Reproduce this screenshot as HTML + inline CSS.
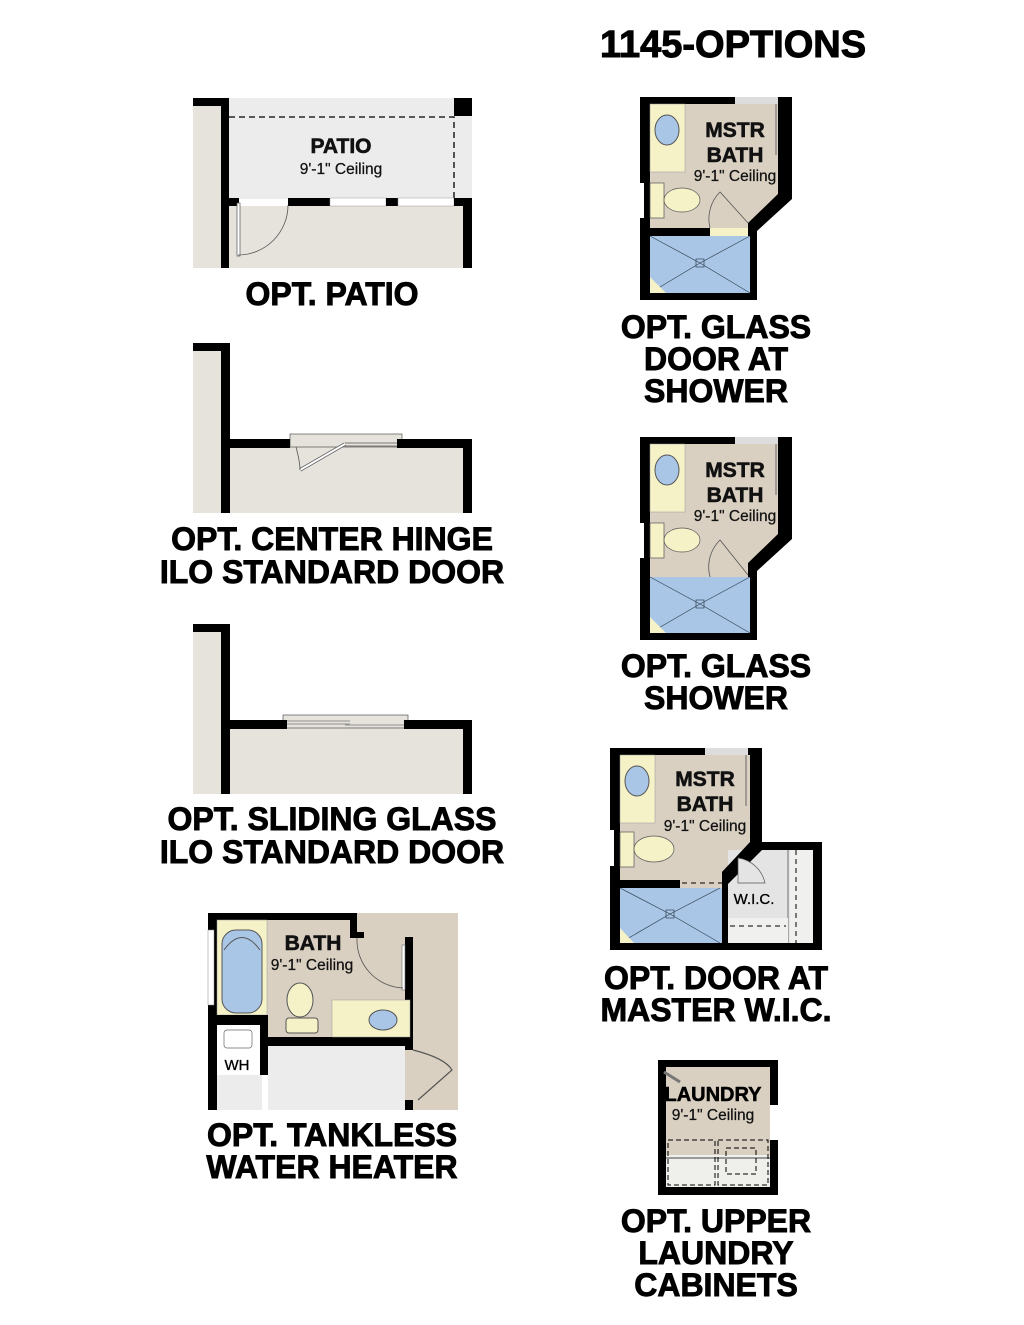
<!DOCTYPE html>
<html><head><meta charset="utf-8"><style>
html,body{margin:0;padding:0;background:#fff;}
svg{display:block;}
text{font-family:"Liberation Sans",sans-serif;}
.lb{font-weight:bold;font-size:32px;text-anchor:middle;fill:#000;stroke:#000;stroke-width:0.9px;}
.rm{font-weight:bold;font-size:21px;text-anchor:middle;fill:#111;stroke:#111;stroke-width:0.6px;}
.cl{font-size:15.5px;text-anchor:middle;fill:#111;stroke:#111;stroke-width:0.25px;}
</style></head><body>
<svg width="1024" height="1325" viewBox="0 0 1024 1325" xmlns="http://www.w3.org/2000/svg">
<rect width="1024" height="1325" fill="#fff"/>
<text x="733" y="57" font-weight="bold" font-size="38" text-anchor="middle" stroke="#000" stroke-width="1">1145-OPTIONS</text>

<!-- PATIO -->
<rect x="193" y="98" width="36" height="170" fill="#e6e2dc"/>
<rect x="229" y="98" width="243" height="101" fill="#ececec"/>
<rect x="229" y="206" width="234" height="62" fill="#e6e2dc"/>
<rect x="193" y="98" width="36" height="8" fill="#000"/>
<rect x="221" y="98" width="8" height="170" fill="#000"/>
<rect x="454" y="98" width="18" height="18" fill="#000"/>
<path d="M229 117 H454 V199" stroke="#000" stroke-width="1.3" stroke-dasharray="6,4" fill="none"/>
<rect x="229" y="198" width="10" height="8" fill="#000"/>
<rect x="288" y="198" width="42" height="8" fill="#000"/>
<rect x="330" y="198" width="56" height="8" fill="#fff" stroke="#999" stroke-width=".5"/>
<rect x="386" y="198" width="12" height="8" fill="#000"/>
<rect x="398" y="198" width="56" height="8" fill="#fff" stroke="#999" stroke-width=".5"/>
<rect x="454" y="198" width="18" height="8" fill="#000"/>
<rect x="463" y="198" width="9" height="70" fill="#000"/>
<rect x="237" y="203" width="3" height="53" fill="#fff" stroke="#555" stroke-width=".7"/>
<path d="M238 255 A50 50 0 0 0 288 205" stroke="#555" fill="none" stroke-width=".8"/>
<text class="rm" x="341" y="153">PATIO</text>
<text class="cl" x="341" y="174">9'-1" Ceiling</text>
<text class="lb" x="332" y="305">OPT. PATIO</text>

<!-- CENTER HINGE -->
<rect x="193" y="343" width="36" height="170" fill="#e6e2dc"/>
<rect x="229" y="447" width="234" height="66" fill="#e6e2dc"/>
<rect x="290" y="434" width="112" height="13" fill="#e6e2dc" stroke="#555" stroke-width=".7"/>
<rect x="193" y="343" width="36" height="8" fill="#000"/>
<rect x="221" y="343" width="9" height="170" fill="#000"/>
<rect x="221" y="439" width="69" height="9" fill="#000"/>
<rect x="397" y="439" width="75" height="9" fill="#000"/>
<rect x="463" y="439" width="9" height="74" fill="#000"/>
<path d="M345 446 H397 M345 443 H397" stroke="#555" stroke-width=".8"/>
<path d="M345 444 L300 470" stroke="#555" stroke-width="3.5"/>
<path d="M345 444 L300 470" stroke="#fff" stroke-width="2"/>
<path d="M296 447 Q300 462 300 470" stroke="#555" fill="none" stroke-width=".8"/>
<text class="lb" x="332" y="550">OPT. CENTER HINGE</text>
<text class="lb" x="332" y="583">ILO STANDARD DOOR</text>

<!-- SLIDING -->
<rect x="193" y="624" width="36" height="170" fill="#e6e2dc"/>
<rect x="229" y="728" width="234" height="66" fill="#e6e2dc"/>
<rect x="283" y="715" width="125" height="13" fill="#e6e2dc" stroke="#555" stroke-width=".7"/>
<rect x="193" y="624" width="36" height="8" fill="#000"/>
<rect x="221" y="624" width="9" height="170" fill="#000"/>
<rect x="221" y="720" width="66" height="9" fill="#000"/>
<rect x="404" y="720" width="68" height="9" fill="#000"/>
<rect x="463" y="720" width="9" height="74" fill="#000"/>
<path d="M287 721 H350 M287 724 H350 M345 725 H404 M345 728 H404" stroke="#777" stroke-width=".7"/>
<text class="lb" x="332" y="830">OPT. SLIDING GLASS</text>
<text class="lb" x="332" y="863">ILO STANDARD DOOR</text>

<!-- TANKLESS -->
<rect x="355" y="913" width="103" height="197" fill="#d9d0c2"/>
<rect x="217" y="920" width="188" height="120" fill="#d9d0c2"/>
<rect x="208" y="913" width="149" height="7" fill="#000"/>
<rect x="350" y="913" width="7" height="25" fill="#000"/>
<rect x="350" y="932" width="14" height="6" fill="#000"/>
<rect x="208" y="913" width="9" height="197" fill="#000"/>
<rect x="208" y="930" width="6" height="75" fill="#fff" stroke="#888" stroke-width=".5"/>
<rect x="217" y="920" width="50" height="95" fill="#f6f2c8" stroke="#999" stroke-width=".5"/>
<rect x="222" y="930" width="40" height="83" rx="14" fill="#a9c6e6" stroke="#555"/>
<path d="M224 950 Q242 925 260 950" stroke="#555" fill="none"/>
<rect x="208" y="1015" width="60" height="10" fill="#000"/>
<rect x="217" y="1025" width="45" height="50" fill="#fff"/>
<rect x="224" y="1030" width="28" height="18" rx="3" fill="#fff" stroke="#666" stroke-width=".7"/>
<text x="237" y="1070" font-size="15" text-anchor="middle" stroke="#000" stroke-width=".3">WH</text>
<rect x="260" y="1020" width="8" height="55" fill="#000"/>
<rect x="217" y="1075" width="45" height="35" fill="#ececec"/>
<rect x="268" y="1045" width="137" height="65" fill="#ececec"/>
<rect x="262" y="1037" width="151" height="9" fill="#000"/>
<rect x="405" y="937" width="8" height="113" fill="#000"/>
<rect x="402" y="945" width="3" height="45" fill="#fff" stroke="#666" stroke-width=".6"/>
<path d="M357 938 A48 48 0 0 0 403 988" stroke="#555" fill="none" stroke-width=".8"/>
<rect x="332" y="1000" width="78" height="37" fill="#f6f2c8" stroke="#999" stroke-width=".5"/>
<ellipse cx="383" cy="1020" rx="14" ry="10" fill="#a9c6e6" stroke="#555"/>
<ellipse cx="300" cy="1000" rx="13" ry="17" fill="#f6f2c8" stroke="#555"/>
<rect x="286" y="1018" width="32" height="15" rx="3" fill="#f6f2c8" stroke="#555"/>
<rect x="405" y="1100" width="8" height="10" fill="#000"/>
<path d="M413 1050 Q445 1058 452 1070 L418 1100" stroke="#555" fill="none" stroke-width="1.2"/>
<text class="rm" x="313" y="950">BATH</text>
<text class="cl" x="312" y="970">9'-1" Ceiling</text>
<text class="lb" x="332" y="1146">OPT. TANKLESS</text>
<text class="lb" x="332" y="1178">WATER HEATER</text>

<!-- MSTR BATH 1 -->
<g transform="translate(640,97)">
<polygon points="0,0 152,0 152,102 117,134 117,203 0,203" fill="#000"/>
<polygon points="10,7 138,7 138,97 108,126 108,139 10,139" fill="#d9d0c2"/>
<rect x="95" y="0" width="43" height="7" fill="#ddd"/>
<line x1="136" y1="7" x2="136" y2="58" stroke="#666"/>
<rect x="0" y="131" width="70" height="8" fill="#000"/>
<rect x="70" y="131" width="38" height="8" fill="#f6f2c8"/>
<rect x="10" y="139" width="100" height="57" fill="#a9c6e6"/>
<path d="M10 139 L60 166 L110 139 M10 196 L60 166 L110 196" stroke="#345" stroke-width=".7" fill="none"/>
<rect x="56" y="162" width="8" height="8" fill="none" stroke="#345" stroke-width=".7"/>
<polygon points="10,180 10,196 26,196" fill="#f6f2c8"/>
<rect x="10" y="7" width="35" height="68" fill="#f6f2c8" stroke="#999" stroke-width=".5"/>
<ellipse cx="27" cy="33" rx="12" ry="15" fill="#a9c6e6" stroke="#555"/>
<rect x="0" y="86" width="4" height="35" fill="#fff"/>
<rect x="10" y="86" width="14" height="35" fill="#f6f2c8" stroke="#555" stroke-width=".7"/>
<ellipse cx="42" cy="103" rx="18" ry="12" fill="#f6f2c8" stroke="#555" stroke-width=".7"/>
<path d="M70 131 A38 38 0 0 1 80 95 L108 126" stroke="#555" fill="none" stroke-width=".8"/>
<text class="rm" x="95" y="40">MSTR</text>
<text class="rm" x="95" y="65">BATH</text>
<text class="cl" x="95" y="84">9'-1" Ceiling</text>
</g>
<text class="lb" x="716" y="338">OPT. GLASS</text>
<text class="lb" x="716" y="370">DOOR AT</text>
<text class="lb" x="716" y="402">SHOWER</text>

<!-- MSTR BATH 2 -->
<g transform="translate(640,437)">
<polygon points="0,0 152,0 152,102 117,134 117,203 0,203" fill="#000"/>
<polygon points="10,7 138,7 138,97 108,126 108,140 10,140" fill="#d9d0c2"/>
<rect x="95" y="0" width="43" height="7" fill="#ddd"/>
<line x1="136" y1="7" x2="136" y2="58" stroke="#666"/>
<rect x="10" y="140" width="100" height="56" fill="#a9c6e6"/>
<path d="M10 140 L60 167 L110 140 M10 196 L60 167 L110 196" stroke="#345" stroke-width=".7" fill="none"/>
<rect x="56" y="163" width="8" height="8" fill="none" stroke="#345" stroke-width=".7"/>
<polygon points="10,180 10,196 26,196" fill="#f6f2c8"/>
<rect x="10" y="7" width="35" height="68" fill="#f6f2c8" stroke="#999" stroke-width=".5"/>
<ellipse cx="27" cy="33" rx="12" ry="15" fill="#a9c6e6" stroke="#555"/>
<rect x="0" y="86" width="4" height="35" fill="#fff"/>
<rect x="10" y="86" width="14" height="35" fill="#f6f2c8" stroke="#555" stroke-width=".7"/>
<ellipse cx="42" cy="103" rx="18" ry="12" fill="#f6f2c8" stroke="#555" stroke-width=".7"/>
<path d="M70 140 A38 38 0 0 1 80 103 L108 138" stroke="#555" fill="none" stroke-width=".8"/>
<text class="rm" x="95" y="40">MSTR</text>
<text class="rm" x="95" y="65">BATH</text>
<text class="cl" x="95" y="84">9'-1" Ceiling</text>
</g>
<text class="lb" x="716" y="677">OPT. GLASS</text>
<text class="lb" x="716" y="709">SHOWER</text>

<!-- MSTR BATH 3 WIC -->
<g transform="translate(610,748)">
<polygon points="0,0 152,0 152,94 212,94 212,202 0,202" fill="#000"/>
<polygon points="10,7 140,7 140,97 112,124 112,132 10,132" fill="#d9d0c2"/>
<rect x="118" y="102" width="85" height="93" fill="#e4e4e4"/>
<rect x="180" y="102" width="23" height="93" fill="#f0f0ee"/>
<line x1="178" y1="102" x2="178" y2="195" stroke="#aaa" stroke-width="2"/>
<line x1="186" y1="102" x2="186" y2="195" stroke="#000" stroke-dasharray="5,4"/>
<rect x="118" y="170" width="60" height="25" fill="#f0f0ee"/>
<line x1="120" y1="178" x2="176" y2="178" stroke="#000" stroke-dasharray="5,4"/>
<polygon points="140,94 152,94 152,102 118,136 112,136 112,124" fill="#000"/>
<rect x="112" y="132" width="6" height="70" fill="#000"/>
<rect x="95" y="0" width="43" height="7" fill="#ddd"/>
<line x1="136" y1="7" x2="136" y2="58" stroke="#666"/>
<rect x="0" y="132" width="70" height="8" fill="#000"/>
<rect x="70" y="132" width="42" height="8" fill="#d9d0c2"/>
<line x1="72" y1="135" x2="112" y2="135" stroke="#000" stroke-dasharray="5,4"/>
<rect x="10" y="140" width="102" height="55" fill="#a9c6e6"/>
<path d="M10 140 L60 166 L110 140 M10 195 L60 166 L110 195" stroke="#345" stroke-width=".7" fill="none"/>
<rect x="56" y="162" width="8" height="8" fill="none" stroke="#345" stroke-width=".7"/>
<polygon points="10,180 10,195 24,195" fill="#f6f2c8"/>
<path d="M128 110 A32 32 0 0 1 155 135 L128 135 Z" fill="#e4e4e4" stroke="#555" stroke-width=".7"/>
<rect x="10" y="7" width="35" height="68" fill="#f6f2c8" stroke="#999" stroke-width=".5"/>
<ellipse cx="27" cy="33" rx="12" ry="15" fill="#a9c6e6" stroke="#555"/>
<rect x="0" y="82" width="4" height="36" fill="#fff"/>
<rect x="10" y="84" width="14" height="35" fill="#f6f2c8" stroke="#555" stroke-width=".7"/>
<ellipse cx="44" cy="101" rx="20" ry="13" fill="#f6f2c8" stroke="#555" stroke-width=".7"/>
<text class="rm" x="95" y="38">MSTR</text>
<text class="rm" x="95" y="63">BATH</text>
<text class="cl" x="95" y="83">9'-1" Ceiling</text>
<text x="144" y="156" font-size="15" text-anchor="middle" stroke="#000" stroke-width=".3">W.I.C.</text>
</g>
<text class="lb" x="716" y="989">OPT. DOOR AT</text>
<text class="lb" x="716" y="1021">MASTER W.I.C.</text>

<!-- LAUNDRY -->
<rect x="658" y="1060" width="120" height="135" fill="#000"/>
<rect x="666" y="1067" width="104" height="120" fill="#d9d0c2"/>
<rect x="770" y="1105" width="8" height="35" fill="#fff"/>
<rect x="666" y="1155" width="104" height="32" fill="#efefec"/>
<line x1="666" y1="1158" x2="770" y2="1158" stroke="#999" stroke-width="2"/>
<rect x="668" y="1140" width="47" height="45" fill="none" stroke="#000" stroke-dasharray="5,3"/>
<rect x="718" y="1140" width="50" height="45" fill="none" stroke="#000" stroke-dasharray="5,3"/>
<rect x="726" y="1148" width="30" height="26" fill="none" stroke="#000" stroke-dasharray="5,3"/>
<path d="M664 1072 L680 1082" stroke="#777" stroke-width="3"/>
<text x="713" y="1101" font-weight="bold" font-size="20" text-anchor="middle" stroke="#000" stroke-width=".5">LAUNDRY</text>
<text class="cl" x="713" y="1120">9'-1" Ceiling</text>
<text class="lb" x="716" y="1232">OPT. UPPER</text>
<text class="lb" x="716" y="1264">LAUNDRY</text>
<text class="lb" x="716" y="1296">CABINETS</text>
</svg>
</body></html>
